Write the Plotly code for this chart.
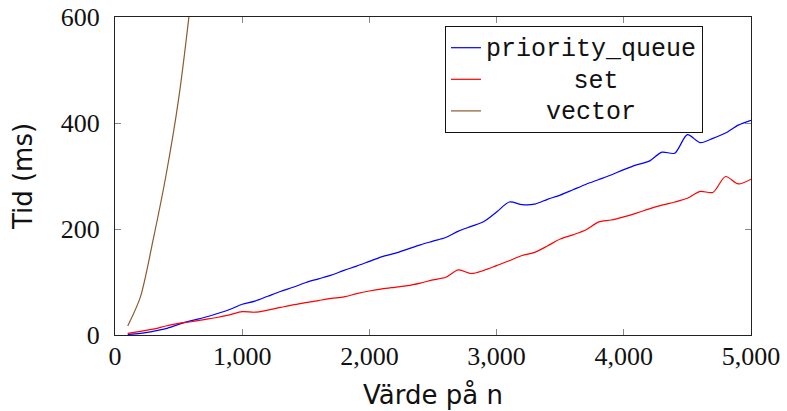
import plotly.graph_objects as go

n_values = list(range(100, 5001, 100))

priority_queue = [1, 3, 7, 12, 20, 27, 33, 40, 48, 58,
                  64, 73, 82, 90, 99, 106, 113, 122, 130, 139,
                  148, 154, 162, 170, 177, 184, 196, 205, 214, 232,
                  251, 246, 247, 256, 264, 274, 284, 293, 302, 312,
                  321, 328, 345, 343, 378, 363, 371, 381, 396, 405]

set_values = [3, 7, 11, 17, 22, 25, 29, 33, 38, 44,
              43, 47, 52, 57, 61, 65, 69, 72, 78, 83,
              87, 90, 93, 98, 104, 109, 123, 116, 122, 131,
              140, 150, 156, 168, 181, 189, 198, 213, 217, 223,
              230, 238, 245, 251, 258, 271, 269, 299, 285, 294]

vector_n = [100, 200, 300, 400, 500, 600, 700]
vector_values = [17, 72, 180, 300, 445, 640, 870]

x_ticks = [0, 1000, 2000, 3000, 4000, 5000]
y_ticks = [0, 200, 400, 600]

NB = "\u00a0"
series_labels = ["priority_queue", NB * 5 + "\u2002" + "set", NB * 4 + "vector"]
legend_names = ['<span style="font-size:25px">' + s + "</span>" for s in series_labels]

fig = go.Figure()
fig.add_trace(go.Scatter(x=n_values, y=priority_queue, mode="lines", name=legend_names[0],
                         line=dict(color="#0000ff", width=1.2, shape="spline", smoothing=0.8)))
fig.add_trace(go.Scatter(x=n_values, y=set_values, mode="lines", name=legend_names[1],
                         line=dict(color="#ff0000", width=1.2, shape="spline", smoothing=0.8)))
fig.add_trace(go.Scatter(x=vector_n, y=vector_values, mode="lines", name=legend_names[2],
                         line=dict(color="#8c5a2e", width=1.2, shape="spline", smoothing=0.8)))

axis_common = dict(showline=True, linecolor="#222", linewidth=1.3, mirror="ticks",
                   ticks="inside", ticklen=6, tickcolor="#888", tickwidth=1,
                   showgrid=False, zeroline=False, automargin=False,
                   tickfont=dict(family="Liberation Serif", size=26, color="#111"))

fig.update_xaxes(range=[0, 5000], tickvals=x_ticks, tickformat=",d",
                 title=dict(text="Värde på n", font=dict(family="DejaVu Sans", size=26, color="#111"),
                            standoff=15),
                 ticklabelstandoff=-2, **axis_common)
fig.update_yaxes(range=[0, 600], tickvals=y_ticks,
                 title=dict(text="Tid (ms)", font=dict(family="DejaVu Sans", size=26, color="#111"),
                            standoff=20),
                 ticklabelstandoff=9, **axis_common)

fig.update_layout(
    width=787, height=411,
    margin=dict(l=115, r=36, t=17, b=76),
    paper_bgcolor="white", plot_bgcolor="white",
    separators=".,",
    legend=dict(x=0.9245, y=0.972, xanchor="right", yanchor="top",
                bordercolor="#111", borderwidth=1, bgcolor="white",
                font=dict(family="Liberation Mono", size=22, color="#111"),
                tracegroupgap=0),
    showlegend=True,
)

fig.write_html("out.html", config={"displayModeBar": False},
               post_script="document.body.style.margin='0';")
